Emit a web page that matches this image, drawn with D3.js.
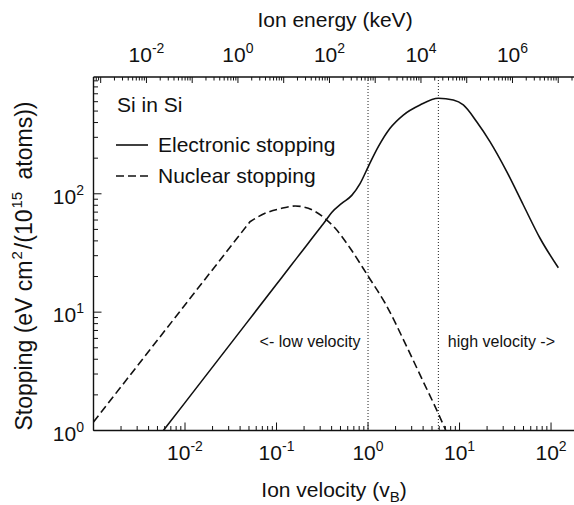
<!DOCTYPE html>
<html>
<head>
<meta charset="utf-8">
<script src="https://cdn.jsdelivr.net/npm/d3@7"></script>
<style>
  body { margin: 0; background: #fff; }
  text { font-family: "Liberation Sans", Arial, Helvetica, sans-serif; fill: #111; }
</style>
</head>
<body>
<div id="chart"></div>
<script>
// Si in Si stopping (v in units of v_B)
const elecV = [0.0058, 0.01, 0.1, 0.1404, 0.2138, 0.2988, 0.3388, 0.401, 0.516, 0.664, 0.818, 1.025, 1.296, 1.74, 2.43, 3.70, 5.87, 8.55, 11.0, 15.4, 21.5, 32.8, 49.8, 75.8, 120.2];
const elecS = [1, 1.72, 17.2, 24.15, 36.8, 51.4, 58.3, 69.5, 83, 97, 122, 175, 250, 357.6, 463, 563, 641, 620, 563, 406, 275.5, 153.8, 80.4, 42.1, 23.7];

const nucV = [0.001, 0.0513, 0.0749, 0.114, 0.1593, 0.2225, 0.3389, 0.4358, 0.6357, 1.0076, 1.534, 2.649, 3.893, 5.866, 7.12];
const nucS = [1.18, 58.1, 68.4, 75.4, 78.9, 75.4, 61.8, 51.4, 34.8, 20.0, 11.95, 5.11, 2.72, 1.39, 0.99];

// vertical dotted separators (v_B)
const boundaryV = [1, 5.87];

// tick label exponents
const bottomExp = [-2, -1, 0, 1, 2];
const leftExp = [0, 1, 2];
const topExp = [-2, 0, 2, 4, 6];

// E (keV) = K * v^2 for Si (28.0855 amu, 24.8 keV/amu at v_B)
const K = 28.0855 * 24.8;

const width = 574, height = 505;
const plotLeft = 93.5, plotBottom = 430.5, plotTop = 77;

const svg = d3.select('#chart').append('svg')
  .attr('width', width)
  .attr('height', height);

const x = d3.scaleLog().domain([1e-3, 180]).range([plotLeft, 574.4]);
const y = d3.scaleLog().domain([1, 970]).range([plotBottom, plotTop]);
const xTop = d3.scaleLog().domain([K * 1e-6, K * 180 * 180]).range(x.range());

// clip for curves
svg.append('clipPath').attr('id', 'plot')
  .append('rect')
  .attr('x', plotLeft).attr('y', plotTop)
  .attr('width', width - plotLeft).attr('height', plotBottom - plotTop);

// log minor/major ticks between the domain ends
function logTicks(scale) {
  const [d0, d1] = scale.domain();
  const out = [];
  for (let k = Math.floor(Math.log10(d0)); k <= Math.ceil(Math.log10(d1)); k++) {
    for (let m = 1; m <= 9; m++) {
      const v = m * Math.pow(10, k);
      if (v >= d0 * 0.999 && v <= d1 * 1.001) out.push({ v: v, major: m === 1 });
    }
  }
  return out;
}

// frame lines
svg.append('line')
  .attr('x1', plotLeft).attr('x2', width).attr('y1', plotBottom).attr('y2', plotBottom)
  .style('stroke', '#111').style('stroke-width', 1.4);
svg.append('line')
  .attr('x1', plotLeft).attr('x2', width).attr('y1', plotTop).attr('y2', plotTop)
  .style('stroke', '#111').style('stroke-width', 1.4);
svg.append('line')
  .attr('x1', plotLeft).attr('x2', plotLeft).attr('y1', plotTop).attr('y2', plotBottom)
  .style('stroke', '#111').style('stroke-width', 1.4);

// bottom ticks (inward)
svg.append('g').selectAll('line')
  .data(logTicks(x))
  .enter().append('line')
  .attr('x1', d => x(d.v)).attr('x2', d => x(d.v))
  .attr('y1', plotBottom).attr('y2', d => plotBottom - (d.major ? 8 : 4.5))
  .style('stroke', '#111').style('stroke-width', 1);

// left ticks (inward)
svg.append('g').selectAll('line')
  .data(logTicks(y))
  .enter().append('line')
  .attr('y1', d => y(d.v)).attr('y2', d => y(d.v))
  .attr('x1', plotLeft).attr('x2', d => plotLeft + (d.major ? 8 : 4.5))
  .style('stroke', '#111').style('stroke-width', 1);

// top ticks (energy)
svg.append('g').selectAll('line')
  .data(logTicks(xTop))
  .enter().append('line')
  .attr('x1', d => xTop(d.v)).attr('x2', d => xTop(d.v))
  .attr('y1', plotTop).attr('y2', d => plotTop + (d.major ? 6 : 3.5))
  .style('stroke', '#111').style('stroke-width', 1);

// power-of-ten label helper
function powLabel(g, px, py, e, anchor) {
  const t = g.append('text')
    .attr('x', px).attr('y', py)
    .attr('text-anchor', anchor)
    .style('font-size', '21px');
  t.append('tspan').text('10');
  t.append('tspan').attr('dy', -9).style('font-size', '14px').text(e);
}

const labels = svg.append('g');
bottomExp.forEach(e => powLabel(labels, x(Math.pow(10, e)), 460, e, 'middle'));
leftExp.forEach(e => powLabel(labels, 84, y(Math.pow(10, e)) + 10, e, 'end'));
topExp.forEach(e => powLabel(labels, xTop(Math.pow(10, e)), 62, e, 'middle'));

// axis titles
svg.append('text')
  .attr('x', 335).attr('y', 27)
  .attr('text-anchor', 'middle')
  .style('font-size', '21px')
  .text('Ion energy (keV)');

const xt = svg.append('text')
  .attr('x', 334).attr('y', 497)
  .attr('text-anchor', 'middle')
  .style('font-size', '21px');
xt.append('tspan').text('Ion velocity (v');
xt.append('tspan').attr('dy', 5).style('font-size', '15px').text('B');
xt.append('tspan').attr('dy', -5).text(')');

const yt = svg.append('text')
  .attr('transform', 'translate(32,266) rotate(-90)')
  .attr('text-anchor', 'middle')
  .style('font-size', '23px');
yt.append('tspan').text('Stopping (eV cm');
yt.append('tspan').attr('dx', 1).attr('dy', -10).style('font-size', '15px').text('2');
yt.append('tspan').attr('dx', 2).attr('dy', 10).text('/(10');
yt.append('tspan').attr('dx', 1).attr('dy', -10).style('font-size', '15px').text('15');
yt.append('tspan').attr('dx', 6).attr('dy', 10).text(' atoms))');

// dotted separators
svg.append('g').selectAll('line')
  .data(boundaryV)
  .enter().append('line')
  .attr('x1', d => x(d)).attr('x2', d => x(d))
  .attr('y1', plotTop).attr('y2', plotBottom)
  .style('stroke', '#222').style('stroke-width', 1)
  .style('stroke-dasharray', '1,2');

svg.append('text')
  .attr('x', x(boundaryV[0]) - 7.5).attr('y', 347)
  .attr('text-anchor', 'end')
  .style('font-size', '16px')
  .text('<- low velocity');
svg.append('text')
  .attr('x', x(boundaryV[1]) + 9.5).attr('y', 347)
  .style('font-size', '16px')
  .text('high velocity ->');

// curves
const smooth = d3.line()
  .x(d => x(d[0]))
  .y(d => y(d[1]))
  .curve(d3.curveMonotoneX);
const straight = d3.line()
  .x(d => x(d[0]))
  .y(d => y(d[1]));

const elecPts = d3.zip(elecV, elecS);
const nucPts = d3.zip(nucV, nucS);
// nuclear curve: straight rise up to the kink, smooth after it
const nucPath = straight(nucPts.slice(0, 2)) + smooth(nucPts.slice(1)).replace(/^M/, 'L');

const curves = svg.append('g').attr('clip-path', 'url(#plot)');
curves.append('path')
  .attr('d', smooth(elecPts))
  .style('fill', 'none').style('stroke', '#111').style('stroke-width', 1.6);
curves.append('path')
  .attr('d', nucPath)
  .style('fill', 'none').style('stroke', '#111').style('stroke-width', 1.6)
  .style('stroke-dasharray', '8,4');

// legend
svg.append('text')
  .attr('x', 117).attr('y', 112)
  .style('font-size', '21px')
  .text('Si in Si');
const legendItems = [
  { label: 'Electronic stopping', dash: null, y: 145 },
  { label: 'Nuclear stopping', dash: '8,4', y: 176 }
];
legendItems.forEach(d => {
  svg.append('line')
    .attr('x1', 116).attr('x2', 148).attr('y1', d.y).attr('y2', d.y)
    .style('stroke', '#111').style('stroke-width', 1.6)
    .style('stroke-dasharray', d.dash);
  svg.append('text')
    .attr('x', 158).attr('y', d.y + 7)
    .style('font-size', '21px')
    .text(d.label);
});
</script>
</body>
</html>
